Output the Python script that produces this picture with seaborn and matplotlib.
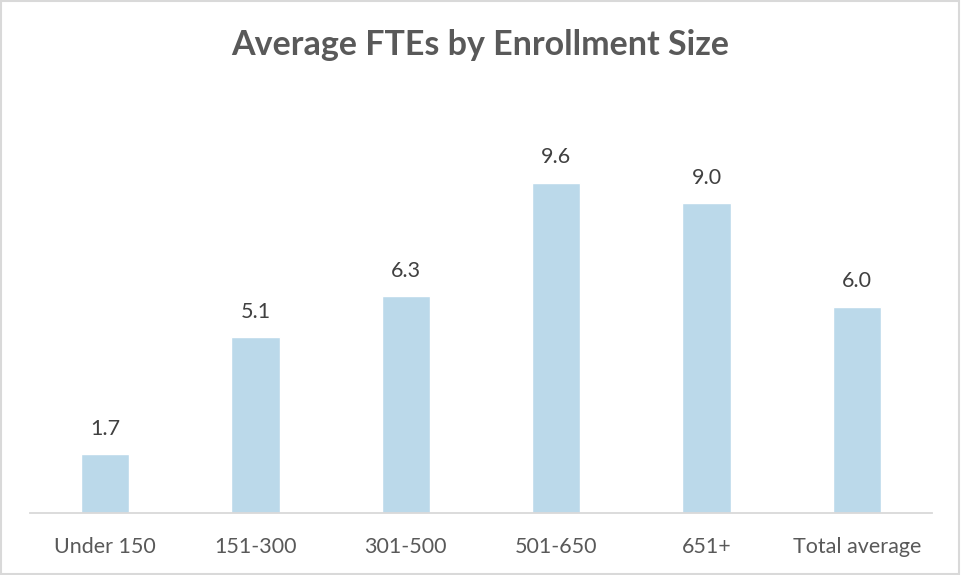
import matplotlib
matplotlib.use("Agg")
import matplotlib.pyplot as plt
import seaborn as sns
from matplotlib.patches import Rectangle

# Data
categories = ["Under 150", "151-300", "301-500", "501-650", "651+", "Total average"]
avg_ftes = [1.7, 5.1, 6.3, 9.6, 9.0, 6.0]

sns.set_theme(style="white")
plt.rcParams['font.family'] = ['Lato', 'DejaVu Sans']

fig = plt.figure(figsize=(9.61, 5.75), dpi=100)
ax = fig.add_axes([30 / 961, 62 / 575, 902 / 961, 413 / 575])

sns.barplot(x=categories, y=avg_ftes, color="#BBD9EA", width=0.32,
            saturation=1, ax=ax)

ax.set_ylim(0, 12)
ax.set_xlim(-0.5, len(categories) - 0.5)
ax.set_yticks([])
for side in ["top", "left", "right"]:
    ax.spines[side].set_visible(False)
ax.spines["bottom"].set_color("#D9D9D9")
ax.spines["bottom"].set_linewidth(1.3)
ax.tick_params(axis="x", length=0, pad=17, labelsize=15.5, labelcolor="#595959")

for i, v in enumerate(avg_ftes):
    ax.annotate(f"{v:.1f}", (i, v), xytext=(0, 11), textcoords="offset points",
                ha="center", va="bottom", fontsize=15.5, color="#404040")

fig.text(0.5, 1 - 45 / 575, "Average FTEs by Enrollment Size", ha="center",
         va="center", fontsize=24.5, fontweight="bold", color="#595959")

# chart border
fig.patches.append(Rectangle((0.001, 0.001), 0.997, 0.997, transform=fig.transFigure,
                             fill=False, edgecolor="#D9D9D9", linewidth=1.5))

fig.savefig("out.png", dpi=100)
